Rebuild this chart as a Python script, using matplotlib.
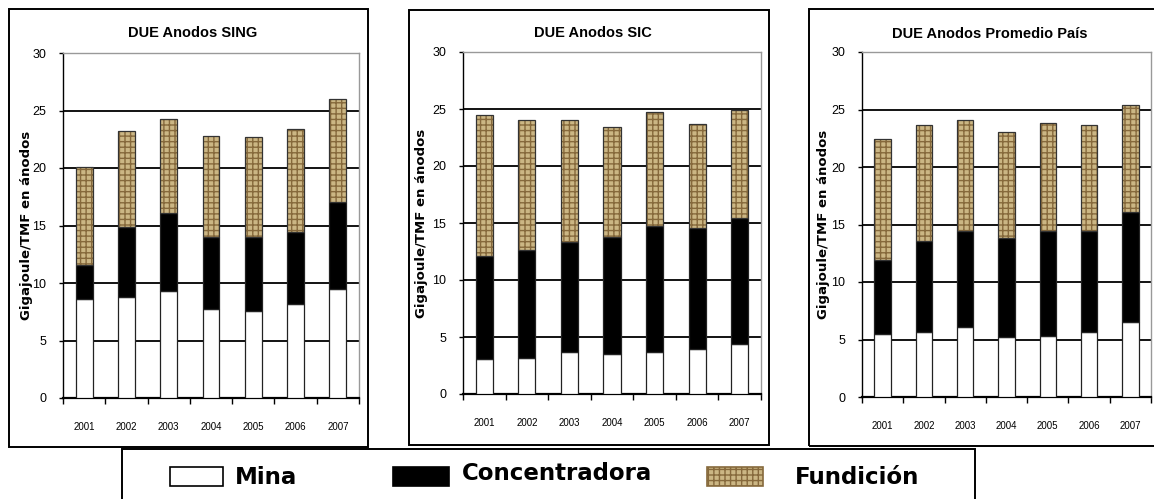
import matplotlib
matplotlib.use("Agg")
import matplotlib.pyplot as plt
from matplotlib.patches import Rectangle
import numpy as np

# ---- data -------------------------------------------------------------
years = ["2001", "2002", "2003", "2004", "2005", "2006", "2007"]

sing_mina = [8.60, 8.75, 9.33, 7.71, 7.57, 8.17, 9.48]
sing_conc = [3.00, 6.09, 6.73, 6.26, 6.40, 6.24, 7.53]
sing_fund = [8.46, 8.41, 8.23, 8.84, 8.75, 8.98, 8.99]

sic_mina = [3.07, 3.20, 3.65, 3.50, 3.65, 3.98, 4.39]
sic_conc = [9.01, 9.40, 9.65, 10.27, 11.12, 10.58, 11.02]
sic_fund = [12.42, 11.46, 10.76, 9.68, 9.97, 9.12, 9.54]

pais_mina = [5.48, 5.65, 6.06, 5.19, 5.33, 5.65, 6.49]
pais_conc = [6.43, 7.89, 8.35, 8.64, 9.08, 8.76, 9.57]
pais_fund = [10.52, 10.14, 9.71, 9.24, 9.42, 9.27, 9.33]

titles = ["DUE Anodos SING", "DUE Anodos SIC", "DUE Anodos Promedio País"]
ylabel = "Gigajoule/TMF en ánodos"
series_names = ["Mina", "Concentradora", "Fundición"]

# ---- styling ----------------------------------------------------------
W, H = 1154, 499
NARROW = "Liberation Sans"
FUND_FACE = "#cbb684"
FUND_HATCH = "#86693c"

fig = plt.figure(figsize=(W / 100, H / 100), dpi=100)


def fr(x0, y0, x1, y1):
    """Pixel box (top-left origin) -> figure fraction rect."""
    return [x0 / W, 1 - y1 / H, (x1 - x0) / W, (y1 - y0) / H]


def frame(x0, y0, x1, y1):
    r = Rectangle((x0 / W, 1 - y1 / H), (x1 - x0) / W, (y1 - y0) / H,
                  transform=fig.transFigure, fill=False, edgecolor="black",
                  linewidth=1.4, zorder=0)
    fig.patches.append(r)


panels = [
    dict(box=(9, 9, 368, 447), ax=(63, 53, 359, 398), title=(193, 33), ylab=27,
         mina=sing_mina, conc=sing_conc, fund=sing_fund),
    dict(box=(409, 10, 769, 445), ax=(463, 52, 761, 394), title=(593, 33), ylab=422,
         mina=sic_mina, conc=sic_conc, fund=sic_fund),
    dict(box=(809, 9, 1170, 446), ax=(862, 52, 1151, 397), title=(990, 34), ylab=824,
         mina=pais_mina, conc=pais_conc, fund=pais_fund),
]

x = np.arange(len(years))
bw = 0.4

for p, title in zip(panels, titles):
    frame(*p["box"])
    ax = fig.add_axes(fr(*p["ax"]))
    mina = np.array(p["mina"])
    conc = np.array(p["conc"])
    fund = np.array(p["fund"])

    ax.bar(x, mina, bw, color="white", edgecolor="#222222", linewidth=0.9, zorder=3)
    ax.bar(x, conc, bw, bottom=mina, color="black", edgecolor="#222222",
           linewidth=0.9, zorder=3)
    ax.bar(x, fund, bw, bottom=mina + conc, color=FUND_FACE, edgecolor=FUND_HATCH,
           hatch="+++", linewidth=0, zorder=3)
    ax.bar(x, fund, bw, bottom=mina + conc, fill=False, edgecolor="#333333",
           linewidth=0.9, zorder=4)

    ax.set_xlim(-0.5, len(years) - 0.5)
    ax.set_ylim(0, 30)
    ax.set_yticks(np.arange(0, 31, 5))
    ax.yaxis.grid(True, color="black", linewidth=1.3, zorder=1)
    ax.set_axisbelow(True)

    ax.set_xticks(x)
    ax.set_xticklabels(years, fontsize=7, family=NARROW)
    ax.set_xticks(np.arange(-0.5, len(years), 1.0), minor=True)
    ax.tick_params(axis="x", which="major", length=0, pad=17)
    ax.tick_params(axis="x", which="minor", length=4, direction="out", width=1)
    ax.tick_params(axis="y", length=3, width=1, pad=9)
    for lab in ax.get_yticklabels():
        lab.set_fontsize(9)
        lab.set_family(NARROW)

    for s in ("top", "right"):
        ax.spines[s].set_color("#999999")
        ax.spines[s].set_linewidth(1.0)
    ax.spines["left"].set_linewidth(1.0)
    ax.spines["bottom"].set_linewidth(1.6)

    tx, ty = p["title"]
    fig.text(tx / W, 1 - ty / H, title, ha="center", va="center",
             fontsize=10.5, fontweight="bold", family=NARROW)
    cy = (p["ax"][1] + p["ax"][3]) / 2
    fig.text(p["ylab"] / W, 1 - cy / H, ylabel, rotation=90, ha="center",
             va="center", fontsize=9.5, fontweight="bold", family="DejaVu Sans")

# ---- legend -------------------------------------------------------------
frame(122, 449, 975, 520)
legend_items = [
    (series_names[0], (170, 467, 223, 486), dict(facecolor="white", edgecolor="black"), 235, 477),
    (series_names[1], (393, 467, 449, 486), dict(facecolor="black", edgecolor="black"), 462, 473),
    (series_names[2], (707, 467, 763, 486), dict(facecolor=FUND_FACE, edgecolor=FUND_HATCH,
                                                 hatch="+++"), 795, 477),
]
for name, (x0, y0, x1, y1), style, tx, ty in legend_items:
    r = Rectangle((x0 / W, 1 - y1 / H), (x1 - x0) / W, (y1 - y0) / H,
                  transform=fig.transFigure, linewidth=1.2, **style)
    fig.patches.append(r)
    fig.text(tx / W, 1 - ty / H, name, ha="left", va="center", fontsize=16.5,
             fontweight="bold", family="DejaVu Sans")

fig.savefig("out.png", dpi=100)
